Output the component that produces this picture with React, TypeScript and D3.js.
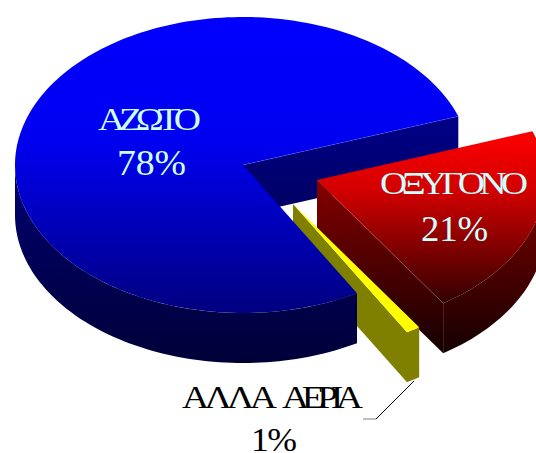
import React from "react";
import * as d3 from "d3";

// Composition of atmospheric air, in percent
const gases = ["ΟΞΥΓΟΝΟ", "ΑΛΛΑ", "ΑΕΡΙΑ", "ΑΖΩΤΟ"];
const shares = [21, 1, 78];
const shareLabels = ["21%", "1%", "78%"];

const WIDTH = 536;
const HEIGHT = 453;
const CX = 243;
const CY = 165;
const RX = 228;
const RY = 148;
const DEPTH = 50;
const START_DEG = -19.2;

const rad = (deg: number) => (deg * Math.PI) / 180;

type Pt = [number, number];

// Pie angles are read here as going clockwise from 3 o'clock on the ellipse
const pie = d3
  .pie<number>()
  .sort(null)
  .startAngle(rad(START_DEG))
  .endAngle(rad(START_DEG + 360));
const slices = pie(shares);

const xScale = d3.scaleLinear().domain([-1, 1]).range([CX - RX, CX + RX]);
const yScale = d3.scaleLinear().domain([-1, 1]).range([CY - RY, CY + RY]);
const line = d3.line<Pt>();

const rimPoint = (a: number, dx: number, dy: number): Pt => [
  xScale(Math.cos(a)) + dx,
  yScale(Math.sin(a)) + dy,
];

const rim = (a0: number, a1: number, dx: number, dy: number): Pt[] => {
  const n = Math.max(2, Math.ceil(Math.abs(a1 - a0) / rad(1.5)));
  return d3.range(n + 1).map((i) => rimPoint(a0 + ((a1 - a0) * i) / n, dx, dy));
};

const facePath = (a0: number, a1: number, dx: number, dy: number) =>
  line([[CX + dx, CY + dy], ...rim(a0, a1, dx, dy)])! + "Z";

// Outer wall of a slice between two angles
const wallPath = (a0: number, a1: number, dx: number, dy: number) => {
  const top = rim(a0, a1, dx, dy);
  const bottom = top.map(([x, y]) => [x, y + DEPTH] as Pt).reverse();
  return line([...top, ...bottom])! + "Z";
};

// Flat cut wall running from the slice centre to its rim
const cutPath = (a: number, dx: number, dy: number) => {
  const apex: Pt = [CX + dx, CY + dy];
  const end = rimPoint(a, dx, dy);
  return line([apex, end, [end[0], end[1] + DEPTH], [apex[0], apex[1] + DEPTH]])! + "Z";
};

const [oxygen, other, nitrogen] = slices;

const RED_DX = 74;
const RED_DY = 15;
const YEL_DX = 50;
const YEL_DY = 39;

const serif = "'Liberation Serif', 'Times New Roman', serif";

// Wide, tightly set capitals: glyphs are stretched, then the run is fitted to its width
function Label(props: {
  x: number;
  y: number;
  width: number;
  size: number;
  stretch: number;
  fill: string;
  text: string;
}) {
  return (
    <text
      transform={`translate(${props.x},${props.y}) scale(${props.stretch},1)`}
      fontFamily={serif}
      fontSize={props.size}
      fill={props.fill}
      textLength={props.width / props.stretch}
      lengthAdjust="spacing"
    >
      {props.text}
    </text>
  );
}

function Grad(props: { id: string; y1: number; y2: number; stops: [number, string][] }) {
  return (
    <linearGradient id={props.id} gradientUnits="userSpaceOnUse" x1={0} x2={0} y1={props.y1} y2={props.y2}>
      {props.stops.map(([o, c]) => (
        <stop key={o} offset={o} stopColor={c} />
      ))}
    </linearGradient>
  );
}

export default function App() {
  const apexRed: Pt = [CX + RED_DX, CY + RED_DY];
  const redEdge = rimPoint(oxygen.endAngle, RED_DX, RED_DY);
  const blueEdge = rimPoint(nitrogen.endAngle, 0, 0);

  return (
    <svg
      width={WIDTH}
      height={HEIGHT}
      viewBox={`0 0 ${WIDTH} ${HEIGHT}`}
      style={{ position: "absolute", left: 0, top: 0, background: "#fff" }}
    >
      <defs>
        <Grad id="blueTop" y1={17} y2={313} stops={[[0, "#0000ff"], [0.42, "#0000f0"], [1, "#000080"]]} />
        <Grad id="blueWall" y1={117} y2={363} stops={[[0, "#000088"], [0.3, "#00006a"], [1, "#000038"]]} />
        <Grad id="redTop" y1={132} y2={304} stops={[[0, "#ff0000"], [0.35, "#d00000"], [1, "#300000"]]} />
        <Grad id="redWall" y1={180} y2={352} stops={[[0, "#850000"], [1, "#150000"]]} />
      </defs>

      {/* Nitrogen: rear cut wall sits behind everything else */}
      <path d={cutPath(nitrogen.endAngle, 0, 0)} fill="url(#blueWall)" />

      {/* Oxygen slice, pulled out to the right */}
      <path d={wallPath(oxygen.startAngle, oxygen.endAngle, RED_DX, RED_DY)} fill="url(#redWall)" />
      <path d={cutPath(oxygen.endAngle, RED_DX, RED_DY)} fill="url(#redWall)" />
      <path d={facePath(oxygen.startAngle, oxygen.endAngle, RED_DX, RED_DY)} fill="url(#redTop)" />
      <path
        d={line([apexRed, redEdge])!}
        stroke="#ff8080"
        strokeOpacity={0.35}
        strokeWidth={0.6}
        fill="none"
      />

      {/* Remaining gases: the thin yellow sliver */}
      <path d={cutPath(other.endAngle, YEL_DX, YEL_DY)} fill="#808000" />
      <path d={wallPath(other.startAngle, other.endAngle, YEL_DX, YEL_DY)} fill="#808000" />
      <path d={facePath(other.startAngle, other.endAngle, YEL_DX, YEL_DY)} fill="#ffff00" />

      {/* Nitrogen: outer wall and top face */}
      <path d={wallPath(nitrogen.startAngle, rad(180), 0, 0)} fill="url(#blueWall)" />
      <path d={facePath(nitrogen.startAngle, nitrogen.endAngle, 0, 0)} fill="url(#blueTop)" />
      <path
        d={line([[CX, CY], blueEdge])!}
        stroke="#8080ff"
        strokeOpacity={0.45}
        strokeWidth={0.6}
        fill="none"
      />

      {/* Leader line for the small slice */}
      <path d="M414 381L376 419" stroke="#000" strokeWidth={1} fill="none" />
      <path d="M376 419H363" stroke="#808080" strokeWidth={1} fill="none" />

      <Label x={98} y={130} width={103} size={32} stretch={1.18} fill="#ccffff" text={gases[3]} />
      <Label x={117} y={175} width={69} size={35} stretch={1.08} fill="#ccffff" text={shareLabels[2]} />
      <Label x={380} y={194} width={148} size={32} stretch={1.18} fill="#ccffff" text={gases[0]} />
      <Label x={421} y={241} width={67} size={35} stretch={1.05} fill="#ccffff" text={shareLabels[0]} />
      <Label x={182} y={408} width={95} size={32} stretch={1.18} fill="#000" text={gases[1]} />
      <Label x={282} y={408} width={81} size={32} stretch={1.18} fill="#000" text={gases[2]} />
      <Label x={251} y={451} width={46} size={34} stretch={1.05} fill="#000" text={shareLabels[1]} />
    </svg>
  );
}
